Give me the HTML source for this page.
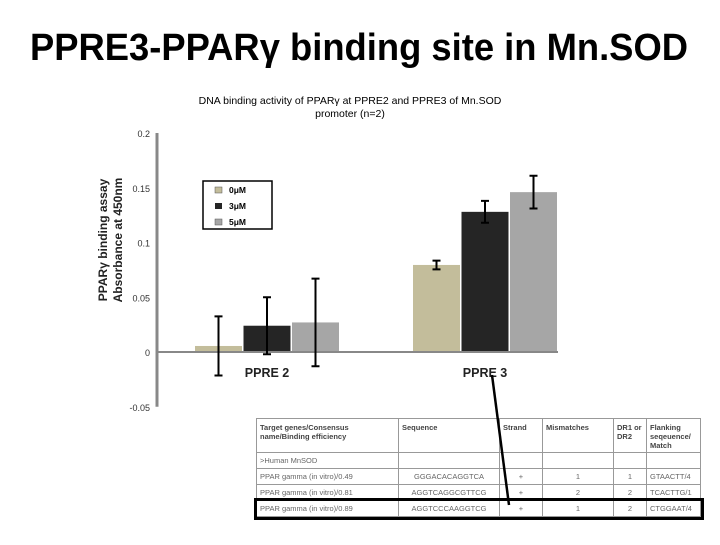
<!DOCTYPE html>
<html><head><meta charset="utf-8"><style>
body{margin:0;background:#fff;width:720px;height:540px;overflow:hidden;font-family:"Liberation Sans",sans-serif}
td,th{border:1px solid #999;padding:0 3px;font-size:7.5px;color:#666;font-family:"Liberation Sans",sans-serif;white-space:nowrap;overflow:hidden}
th{text-align:left;color:#444;vertical-align:top;white-space:normal;padding-top:4px}
tr{height:16px}
</style></head><body>
<svg id="c" width="720" height="540" xmlns="http://www.w3.org/2000/svg">
<text x="30" y="60" textLength="658" lengthAdjust="spacingAndGlyphs" font-size="38" font-weight="bold" font-family="Liberation Sans, sans-serif">PPRE3-PPARγ binding site in Mn.SOD</text>
<text x="350" y="104" text-anchor="middle" font-size="10.5">DNA binding activity  of PPARγ at PPRE2 and PPRE3 of Mn.SOD</text>
<text x="350" y="117" text-anchor="middle" font-size="10.5">promoter (n=2)</text>
<text transform="translate(107,240) rotate(-90)" text-anchor="middle" font-size="12" font-weight="bold" fill="#222">PPARγ binding assay</text>
<text transform="translate(122,240) rotate(-90)" text-anchor="middle" font-size="12" font-weight="bold" fill="#222">Absorbance at 450nm</text>
<g id="g"></g>
<g>
<rect x="203" y="181" width="69" height="48" fill="#fff" stroke="#000" stroke-width="1.5"/>
<rect x="215" y="187" width="7" height="6" fill="#c3bd9b" stroke="#555" stroke-width="0.5"/><text x="229" y="193" font-size="8.5" font-weight="bold">0μM</text>
<rect x="215" y="203" width="7" height="6" fill="#252525"/><text x="229" y="209" font-size="8.5" font-weight="bold">3μM</text>
<rect x="215" y="219" width="7" height="6" fill="#a6a6a6" stroke="#555" stroke-width="0.5"/><text x="229" y="225" font-size="8.5" font-weight="bold">5μM</text>
</g>
</svg>
<div style="position:absolute;left:256px;top:418px;width:444px">
<table style="border-collapse:collapse;width:444px;table-layout:fixed;background:#fff">
<colgroup><col style="width:142px"><col style="width:101px"><col style="width:43px"><col style="width:71px"><col style="width:33px"><col style="width:54px"></colgroup>
<tr style="height:34px"><th>Target genes/Consensus name/Binding efficiency</th><th>Sequence</th><th>Strand</th><th>Mismatches</th><th>DR1 or DR2</th><th>Flanking seqeuence/ Match</th></tr>
<tr><td>&gt;Human MnSOD</td><td></td><td></td><td></td><td></td><td></td></tr>
<tr><td>PPAR gamma (in vitro)/0.49</td><td style="text-align:center">GGGACACAGGTCA</td><td style="text-align:center">+</td><td style="text-align:center">1</td><td style="text-align:center">1</td><td>GTAACTT/4</td></tr>
<tr><td>PPAR gamma (in vitro)/0.81</td><td style="text-align:center">AGGTCAGGCGTTCG</td><td style="text-align:center">+</td><td style="text-align:center">2</td><td style="text-align:center">2</td><td>TCACTTG/1</td></tr>
<tr style="outline:3px solid #000"><td>PPAR gamma (in vitro)/0.89</td><td style="text-align:center">AGGTCCCAAGGTCG</td><td style="text-align:center">+</td><td style="text-align:center">1</td><td style="text-align:center">2</td><td>CTGGAAT/4</td></tr>
</table></div>
<svg width="720" height="540" style="position:absolute;left:0;top:0;pointer-events:none">
<line x1="492" y1="375" x2="509" y2="505" stroke="#000" stroke-width="2.5"/>
</svg>
<script>
const groups=["PPRE 2","PPRE 3"];
const series=["0μM","3μM","5μM"];
const v0=[0.0055,0.0795];
const v3=[0.024,0.128];
const v5=[0.027,0.146];
const e0=[0.027,0.004];
const e3=[0.026,0.010];
const e5=[0.040,0.015];
const ticks=[0.2,0.15,0.1,0.05,0,-0.05];
const tickLabels=["0.2","0.15","0.1","0.05","0","-0.05"];
const NS="http://www.w3.org/2000/svg",g=document.getElementById('g');
const y=v=>352-v*1095;
const gx=i=>195+i*218;
const cols=["#c3bd9b","#252525","#a6a6a6"];
function mk(t,a){const e=document.createElementNS(NS,t);for(const k in a)e.setAttribute(k,a[k]);g.appendChild(e);return e;}
let ax=mk('line',{x1:157,y1:y(0.2),x2:157,y2:y(-0.05),stroke:'#888','stroke-width':3});


ticks.forEach((t,i)=>{const e=mk('text',{x:150,y:y(t)+4,'text-anchor':'end','font-size':9,fill:'#333'});e.textContent=tickLabels[i];

});
const vals=[v0,v3,v5],errs=[e0,e3,e5];
groups.forEach((gname,i)=>{
 series.forEach((s,j)=>{
  const v=vals[j][i],x=gx(i)+j*48.5;
  const r=mk('rect',{x:x,y:Math.min(y(v),y(0)),width:47,height:Math.abs(y(v)-y(0)),fill:cols[j]});
  
  
 });
});
let base=mk('line',{x1:157,y1:y(0),x2:558,y2:y(0),stroke:'#888','stroke-width':2});


groups.forEach((gname,i)=>{
 series.forEach((s,j)=>{
  const v=vals[j][i],e=errs[j][i],cx=gx(i)+j*48.5+23.5;
  const l=mk('path',{d:`M${cx},${y(v+e)}V${y(v-e)}M${cx-4},${y(v+e)}h8M${cx-4},${y(v-e)}h8`,stroke:'#000','stroke-width':2,fill:'none'});
  
  
 });
 const t=mk('text',{x:gx(i)+72,y:377,'text-anchor':'middle','font-size':12.5,'font-weight':'bold',fill:'#222'});t.textContent=gname;
 
 
});
</script>
</body></html>
